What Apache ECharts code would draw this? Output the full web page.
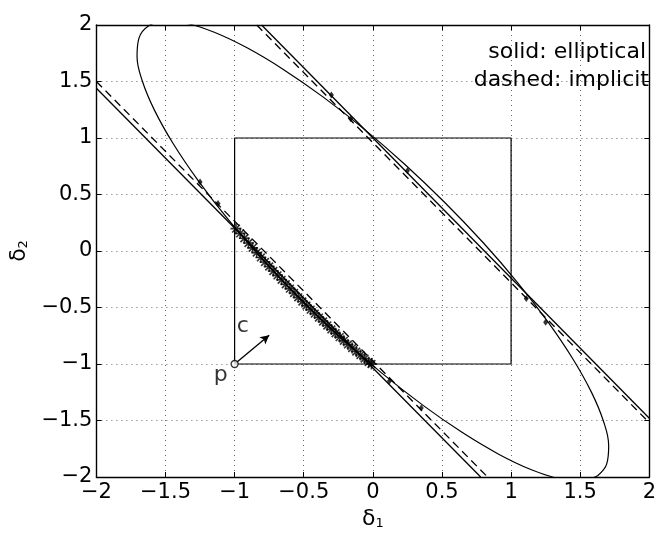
<!DOCTYPE html>
<html>
<head>
<meta charset="utf-8">
<script src="https://cdn.jsdelivr.net/npm/echarts@6/dist/echarts.min.js"></script>
<style>
html,body{margin:0;padding:0;background:#fff;}
#chart{width:659px;height:536px;}
</style>
</head>
<body>
<div id="chart"></div>
<script>
// ---- data ----
var tickValues = [-2, -1.5, -1, -0.5, 0, 0.5, 1, 1.5, 2];

// ellipse (solid), traced around its outline
var ellipse = [
  [1.626, -1.989], [1.692, -1.884], [1.706, -1.723], [1.669, -1.509], [1.581, -1.249],
  [1.445, -0.951], [1.265, -0.625], [1.047, -0.279], [0.797, 0.075], [0.522, 0.427],
  [0.232, 0.766], [-0.065, 1.081], [-0.361, 1.364], [-0.645, 1.605], [-0.910, 1.798],
  [-1.147, 1.936], [-1.349, 2.015], [-1.510, 2.033], [-1.626, 1.989], [-1.692, 1.884],
  [-1.706, 1.723], [-1.669, 1.509], [-1.581, 1.249], [-1.445, 0.951], [-1.265, 0.625],
  [-1.047, 0.279], [-0.797, -0.075], [-0.522, -0.427], [-0.232, -0.766], [0.065, -1.081],
  [0.361, -1.364], [0.645, -1.605], [0.910, -1.798], [1.147, -1.936], [1.349, -2.015],
  [1.510, -2.033], [1.626, -1.989]
];

// straight constraint lines (solid: elliptical, dashed: implicit)
var solidLower = [[-2, 1.44], [0.78, -2]];
var solidUpper = [[-0.805, 2], [2, -1.48]];
var dashedLower = [[-2, 1.50], [0.83, -2]];
var dashedUpper = [[-0.84, 2], [2, -1.52]];

// unit box
var box = [[-1, -1], [1, -1], [1, 1], [-1, 1], [-1, -1]];

// star markers along the ellipse arc inside the box
var stars = [
  [-0.99, 0.198], [-0.96, 0.156], [-0.93, 0.113], [-0.90, 0.071], [-0.87, 0.028],
  [-0.84, -0.014], [-0.81, -0.057], [-0.78, -0.097], [-0.75, -0.137], [-0.72, -0.177],
  [-0.69, -0.216], [-0.66, -0.255], [-0.63, -0.294], [-0.60, -0.333], [-0.57, -0.372],
  [-0.54, -0.410], [-0.51, -0.447], [-0.48, -0.483], [-0.45, -0.519], [-0.42, -0.554],
  [-0.39, -0.589], [-0.36, -0.624], [-0.33, -0.659], [-0.30, -0.694], [-0.27, -0.728],
  [-0.24, -0.762], [-0.21, -0.795], [-0.18, -0.827], [-0.15, -0.859], [-0.12, -0.890],
  [-0.09, -0.921], [-0.06, -0.952], [-0.03, -0.982], [-0.01, -1.0]
];

// small marks where lines touch the ellipse
var contacts = [
  [-1.25, 0.61], [-1.12, 0.42], [-0.30, 1.38], [-0.16, 1.17], [0.25, 0.71],
  [0.12, -1.15], [0.35, -1.39], [1.11, -0.42], [1.25, -0.63]
];

// point p and direction c
var pointP = [-1, -1];
var arrowTip = [-0.75, -0.745];
var labelsText = [[-1.10, -1.10, 'p'], [-0.94, -0.665, 'c']];

var legendLines = ['solid: elliptical', 'dashed: implicit'];

// ---- chart ----
var FONT = 'DejaVu Sans';
var chart = echarts.init(document.getElementById('chart'), null, {renderer: 'canvas'});

function fmt(v) {
  return String(v).replace('-', '\u2212');
}

var gridRect = {left: 84, top: 25, width: 569, height: 452};
var splitStyle = {show: true, lineStyle: {color: '#000', width: 1, type: [1, 4], opacity: 0.6}};
var tickStyle = {show: true, inside: true, length: 5, lineStyle: {color: '#000', width: 1}};
var axisLineStyle = {show: true, onZero: false, lineStyle: {color: '#000', width: 1.4}};

var asterisk = 'path://M5,0L5,10M0,5L10,5M1.5,1.5L8.5,8.5M1.5,8.5L8.5,1.5';

var option = {
  animation: false,
  backgroundColor: '#fff',
  grid: gridRect,
  xAxis: [{
    type: 'value', min: -2, max: 2, interval: 0.5, position: 'bottom',
    axisLine: axisLineStyle, axisTick: tickStyle, splitLine: splitStyle,
    axisLabel: {color: '#000', fontFamily: FONT, fontSize: 21, margin: 5,
      formatter: function (v) { return fmt(v); }},
    name: '{d|δ}{s|1}', nameLocation: 'middle', nameGap: 30,
    nameTextStyle: {rich: {
      d: {fontFamily: FONT, fontSize: 22, color: '#000'},
      s: {fontFamily: FONT, fontSize: 13, color: '#000', verticalAlign: 'bottom', padding: [10, 0, 0, 0]}
    }}
  }, {
    type: 'value', min: -2, max: 2, interval: 0.5, position: 'top',
    axisLine: axisLineStyle, axisTick: tickStyle, splitLine: {show: false},
    axisLabel: {show: false}
  }],
  yAxis: [{
    type: 'value', min: -2, max: 2, interval: 0.5, position: 'left',
    axisLine: axisLineStyle, axisTick: tickStyle, splitLine: splitStyle,
    axisLabel: {color: '#000', fontFamily: FONT, fontSize: 21, margin: 4,
      formatter: function (v) { return fmt(v); }},
    name: '{d|δ}{s|2}', nameLocation: 'middle', nameGap: 42, nameRotate: 90,
    nameTextStyle: {rich: {
      d: {fontFamily: FONT, fontSize: 22, color: '#000'},
      s: {fontFamily: FONT, fontSize: 13, color: '#000', verticalAlign: 'bottom', padding: [10, 0, 0, 0]}
    }}
  }, {
    type: 'value', min: -2, max: 2, interval: 0.5, position: 'right',
    axisLine: axisLineStyle, axisTick: tickStyle, splitLine: {show: false},
    axisLabel: {show: false}
  }],
  series: [
    {
      name: 'ellipse', type: 'line', data: ellipse, smooth: 0.4, showSymbol: false,
      clip: true, lineStyle: {color: '#000', width: 1.2}, z: 3
    },
    {
      name: 'solidLower', type: 'line', data: solidLower, showSymbol: false, clip: true,
      lineStyle: {color: '#000', width: 1.3}, z: 3
    },
    {
      name: 'solidUpper', type: 'line', data: solidUpper, showSymbol: false, clip: true,
      lineStyle: {color: '#000', width: 1.3}, z: 3
    },
    {
      name: 'dashedLower', type: 'line', data: dashedLower, showSymbol: false, clip: true,
      lineStyle: {color: '#000', width: 1.3, type: [8, 5]}, z: 3
    },
    {
      name: 'dashedUpper', type: 'line', data: dashedUpper, showSymbol: false, clip: true,
      lineStyle: {color: '#000', width: 1.3, type: [8, 5]}, z: 3
    },
    {
      name: 'box', type: 'line', data: box, showSymbol: false,
      lineStyle: {color: '#000', width: 1.2}, z: 3
    },
    {
      name: 'stars', type: 'scatter', data: stars, symbol: asterisk, symbolSize: 11,
      symbolKeepAspect: true,
      itemStyle: {color: 'rgba(0,0,0,0)', borderColor: '#000', borderWidth: 1.6}, z: 4
    },
    {
      name: 'contacts', type: 'scatter', data: contacts, symbol: 'diamond', symbolSize: [5, 7],
      itemStyle: {color: '#000'}, z: 4
    },
    {
      name: 'p', type: 'scatter', data: [pointP], symbol: 'circle', symbolSize: 7,
      itemStyle: {color: '#fff', borderColor: '#000', borderWidth: 1.3}, z: 6,
      markLine: {
        silent: true, symbol: ['none', 'arrow'], symbolSize: [7, 9], label: {show: false},
        lineStyle: {color: '#000', width: 1.3, type: 'solid'},
        data: [[{coord: pointP}, {coord: arrowTip}]]
      }
    },
    {
      name: 'labels', type: 'scatter', data: labelsText, symbol: 'circle', symbolSize: 1,
      itemStyle: {color: 'rgba(0,0,0,0)'},
      label: {show: true, position: 'inside', color: '#000', fontFamily: FONT, fontSize: 22,
        formatter: function (p) { return p.value[2]; }}, z: 6
    }
  ],
  graphic: [
    {type: 'text', right: 13, top: 41, style: {text: legendLines[0], fill: '#000',
      font: '22px "DejaVu Sans"', textAlign: 'right'}},
    {type: 'text', right: 10, top: 69, style: {text: legendLines[1], fill: '#000',
      font: '22px "DejaVu Sans"', textAlign: 'right'}}
  ]
};
chart.setOption(option);
</script>
</body>
</html>
